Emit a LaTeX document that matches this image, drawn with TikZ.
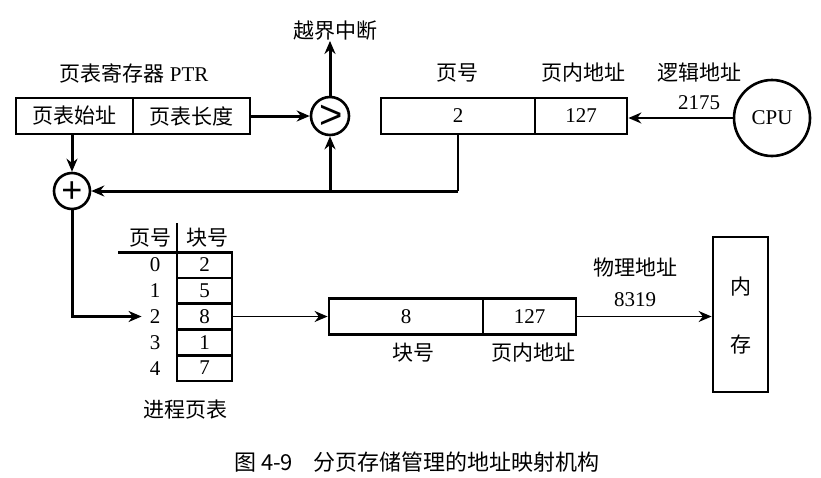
\documentclass[tikz,border=0pt]{standalone}
\usepackage{fontspec}
\setmainfont{Liberation Serif}
\newfontfamily\cjk{Noto Sans CJK SC}
\newfontfamily\symf{Liberation Sans}
\usetikzlibrary{arrows.meta,calc}
\begin{document}
\begin{tikzpicture}[x=1pt,y=-1pt,
  every node/.style={font=\fontsize{21}{24}\selectfont, inner sep=0pt},
  box/.style={draw, line width=2.8pt, minimum height=36pt, anchor=center},
  cell/.style={draw, line width=2.6pt, minimum width=55pt, minimum height=25.8pt},
  circ/.style={draw, circle, line width=2.6pt},
  thk/.style={line width=3pt},
  thn/.style={line width=1.7pt},
  arr/.style={-{Stealth[length=13pt,width=11pt]}},
  lbl/.style={font=\fontsize{21}{24}\selectfont\cjk},
  gtsym/.style={font=\fontsize{40}{40}\selectfont\symf},
  plsym/.style={font=\fontsize{36}{36}\selectfont\symf}
]
\useasboundingbox (0,0) rectangle (821,477);

% PTR register
\node[box, minimum width=117pt] (ptrA) at (74.5,116) {\cjk 页表始址};
\node[box, minimum width=117pt] (ptrB) at (191.5,116) {\cjk 页表长度};
\node (ptrlbl) at (134,73) {{\cjk 页表寄存器} PTR};

% comparator and adder
\node[circ, minimum size=38pt] (cmp) at (330,116) {};
\node[gtsym] (gt) at (331,116) {\raisebox{0pt}[0.62em][0pt]{>}};
\node[circ, minimum size=36pt] (plus) at (72,191) {};
\node[plsym] (pl) at (72,191) {\raisebox{0pt}[0.62em][0pt]{+}};
\node[lbl] (intr) at (335,31) {越界中断};

% logical address
\node[box, minimum width=154pt] (pageA) at (458,116) {2};
\node[box, minimum width=92pt] (pageB) at (581,116) {127};
\node[lbl] (lpn) at (457,73) {页号};
\node[lbl] (loff) at (583,73) {页内地址};
\node[lbl] (laddr) at (699,73) {逻辑地址};
\node (lval) at (699,103) {2175};
\node[circ, minimum size=76pt] (cpu) at (772,118) {CPU};

% page table
\node[lbl] (hpn) at (150,238) {页号};
\node[lbl] (hbn) at (207,238) {块号};
\coordinate (vtop) at (177,223);
\coordinate (vbot) at (177,252);
\coordinate (hl) at (118,252);
\coordinate (hr) at (232,252);
\draw[thn] (vtop) -- (vbot);
\draw[thk] (hl) -- (hr);
\node[cell] (c0) at (204.5,264.9) {2};
\node[cell] (c1) at (204.5,290.7) {5};
\node[cell] (c2) at (204.5,316.5) {8};
\node[cell] (c3) at (204.5,342.3) {1};
\node[cell] (c4) at (204.5,368.1) {7};
\node (p0) at (155,264.9) {0};
\node (p1) at (155,290.7) {1};
\node (p2) at (155,316.5) {2};
\node (p3) at (155,342.3) {3};
\node (p4) at (155,368.1) {4};
\node[lbl] (ptname) at (185,410) {进程页表};

% physical address
\node[box, minimum width=154pt] (blkA) at (406,316.5) {8};
\node[box, minimum width=93pt] (blkB) at (529.5,316.5) {127};
\node[lbl] (bpn) at (413,353) {块号};
\node[lbl] (boff) at (533,353) {页内地址};
\node[lbl] (paddr) at (635,268) {物理地址};
\node (pval) at (635,300) {8319};

% memory
\node[draw, line width=2.8pt, minimum width=55pt, minimum height=155pt] (mem) at (740.5,314.5) {};
\node[lbl] (m1) at (740.5,287) {内};
\node[lbl] (m2) at (740.5,345) {存};

% caption
\node[font=\fontsize{22}{24}\selectfont\cjk, anchor=west] (cap) at (234,462) {图 4-9\hspace{20pt}分页存储管理的地址映射机构};

% connectors
\draw[thk,arr] (ptrB.east) -- (cmp.west);
\draw[thk,arr] (cmp.north) -- (cmp.north |- intr.south);
\draw[thk,arr] (plus.north |- ptrA.south) -- (plus.north);
\coordinate (j1) at (pageA.south |- plus.east);
\draw[thn] (pageA.south) -- (j1);
\draw[thk,arr] (j1) -- (plus.east);
\draw[thk,arr] (cmp.south |- j1) -- (cmp.south);
\draw[thk,arr,shorten >=8pt] (plus.south) -- (plus.south |- p2.west) -- (p2.west);
\draw[thn,arr] (c2.east) -- (blkA.west);
\draw[thn,arr] (blkB.east) -- (mem.west |- blkB.east);
\draw[thn,arr] (cpu.west) -- (pageB.east |- cpu.west);
\end{tikzpicture}
\end{document}
